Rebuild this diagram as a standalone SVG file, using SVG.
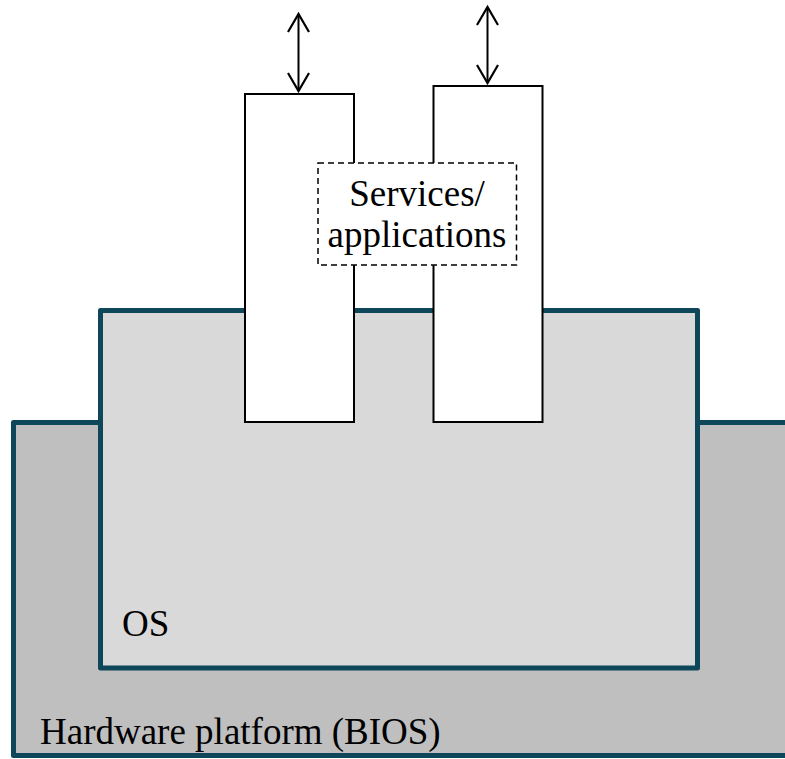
<svg xmlns="http://www.w3.org/2000/svg" width="785" height="759" viewBox="0 0 785 759">
<defs>
<style>
.layer{stroke:#0e465a;stroke-width:5;stroke-linejoin:round}
.app{fill:#fff;stroke:#000;stroke-width:2}
.lbl{font-family:"Liberation Serif","Times New Roman",serif;font-size:37px;fill:#000}
.arr{stroke:#000;stroke-width:2;fill:none}
</style>
<marker id="ah" viewBox="0 0 24 24" refX="20" refY="12" markerWidth="24" markerHeight="24" markerUnits="userSpaceOnUse" orient="auto-start-reverse">
<path d="M2,1.5 L20,12 L2,22.5" fill="none" stroke="#000" stroke-width="2.2"/>
</marker>
</defs>
<g id="hardware">
<rect class="layer" x="13.5" y="422.5" width="780" height="333" fill="#bfbfbf"/>
<text class="lbl" x="40" y="744">Hardware platform (BIOS)</text>
</g>
<g id="os">
<rect class="layer" x="100.5" y="310.5" width="597" height="357.5" fill="#d9d9d9"/>
<text class="lbl" x="122" y="636">OS</text>
</g>
<g id="app1">
<rect class="app" x="245" y="94" width="109" height="328"/>
</g>
<g id="app2">
<rect class="app" x="433.5" y="86" width="109" height="336"/>
</g>
<g id="services">
<rect x="318" y="163" width="198.5" height="102" fill="#fff" stroke="#000" stroke-width="1.5" stroke-dasharray="6,4"/>
<text class="lbl" x="417" y="206" text-anchor="middle">Services/</text>
<text class="lbl" x="417" y="247" text-anchor="middle">applications</text>
</g>
<g id="connectors">
<line class="arr" x1="298.5" y1="14" x2="298.5" y2="91" marker-start="url(#ah)" marker-end="url(#ah)"/>
<line class="arr" x1="487.5" y1="7" x2="487.5" y2="83" marker-start="url(#ah)" marker-end="url(#ah)"/>
</g>
</svg>
